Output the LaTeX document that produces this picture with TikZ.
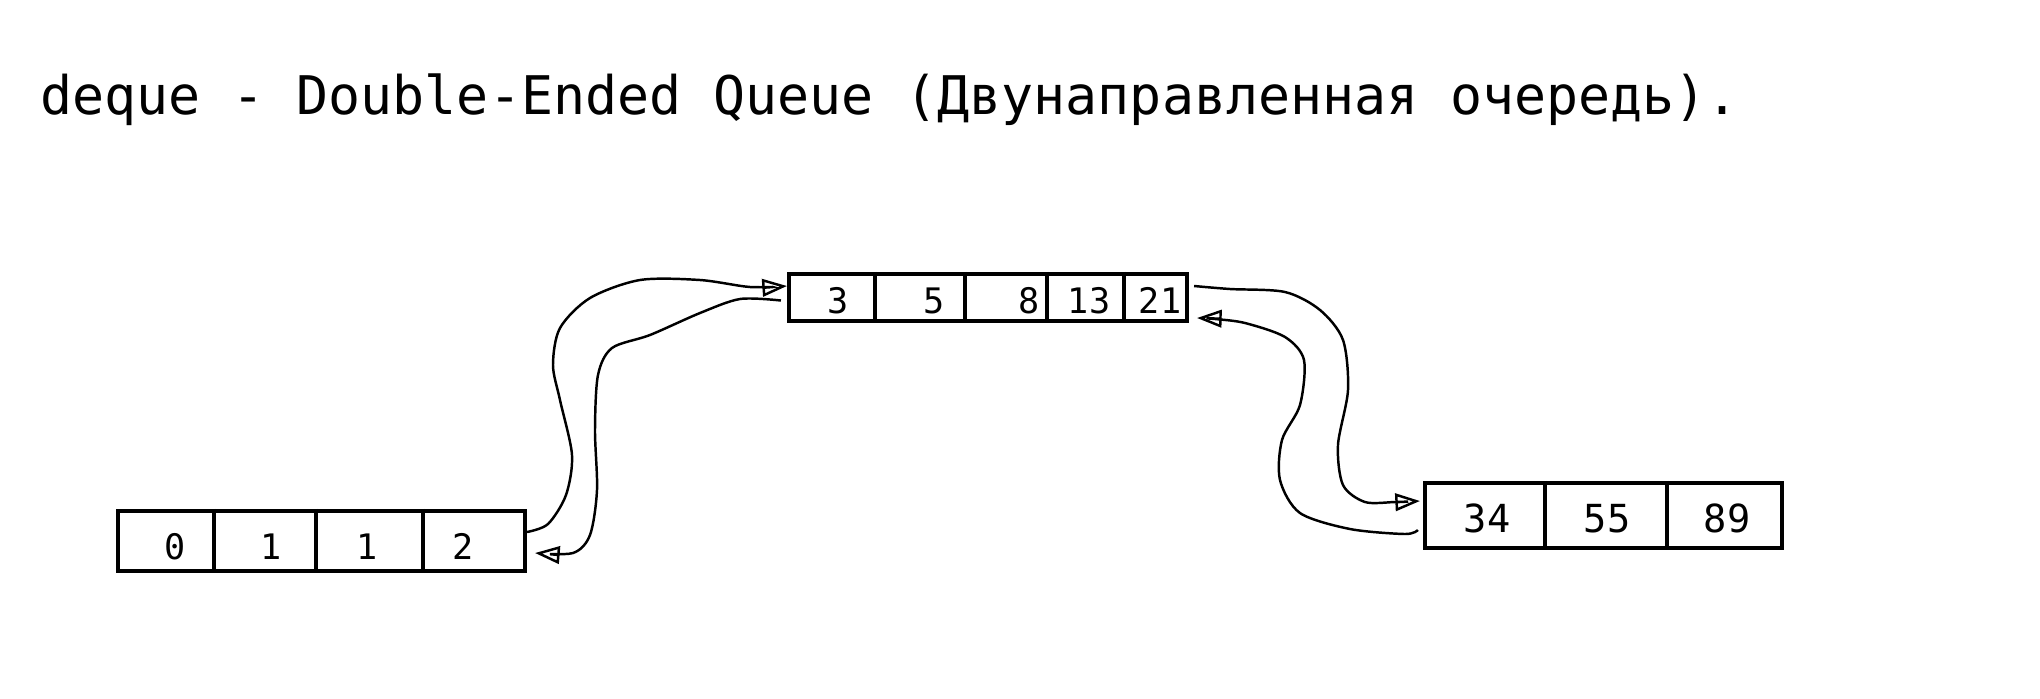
\documentclass[tikz,border=0pt]{standalone}
\usepackage{fontspec}
\setmonofont{DejaVu Sans Mono}
\usetikzlibrary{arrows.meta,calc}

\begin{document}
\begin{tikzpicture}[x=0.02cm,y=-0.02cm,
  block/.style={draw,line width=2.4pt,inner sep=0pt},
  wall/.style={line width=2.4pt},
  num/.style={anchor=base,inner sep=0pt,font=\ttfamily\fontsize{20}{24}\selectfont},
  link/.style={line width=1.4pt,-{Triangle[open,length=14pt,width=10pt]}}]
\useasboundingbox (0,0) rectangle (2040,698);

\node[anchor=base west,inner sep=0pt,font=\ttfamily\fontsize{30.3}{36}\selectfont] (title) at (40,114) {deque - Double-Ended Queue (Двунаправленная очередь).};

% three blocks of the deque
\node[block,minimum width=8.14cm,minimum height=1.2cm] (A) at (321.5,541) {};
\node[block,minimum width=7.96cm,minimum height=0.94cm] (B) at (988,297.5) {};
\node[block,minimum width=7.14cm,minimum height=1.3cm] (C) at (1603.5,515.5) {};

\foreach \x in {214,316,423} \draw[wall] (\x,0 |- A.north) -- (\x,0 |- A.south);
\foreach \x in {875,965,1047,1124} \draw[wall] (\x,0 |- B.north) -- (\x,0 |- B.south);
\foreach \x in {1545,1667} \draw[wall] (\x,0 |- C.north) -- (\x,0 |- C.south);

\node[num] (a1) at (175,559) {0};
\node[num] (a2) at (271,559) {1};
\node[num] (a3) at (367,559) {1};
\node[num] (a4) at (463,559) {2};

\node[num] (b1) at (838,313) {3};
\node[num] (b2) at (934,313) {5};
\node[num] (b3) at (1029,313) {8};
\node[num] (b4) at (1089,313) {13};
\node[num] (b5) at (1160,313) {21};

\node[num,font=\ttfamily\fontsize{22}{26}\selectfont] (c1) at (1487,532) {34};
\node[num,font=\ttfamily\fontsize{22}{26}\selectfont] (c2) at (1607,532) {55};
\node[num,font=\ttfamily\fontsize{22}{26}\selectfont] (c3) at (1727,532) {89};

% links between blocks
\draw[link] plot[smooth] coordinates {($(A.east)+(0,-9)$) (548,524) (566,495) (572,455) (560,400) (553,365) (560,328) (590,298) (640,280) (700,280) (750,287) ($(B.west)+(0,-11.5)$)};
\draw[link] plot[smooth] coordinates {($(B.west)+(-6,3)$) (740,299) (700,313) (650,335) (612,348) (598,375) (595,430) (597,490) (590,535) (573,553) ($(A.east)+(8,12)$)};

\draw[link] plot[smooth] coordinates {($(B.east)+(5,-11.5)$) (1230,289) (1285,292) (1320,310) (1343,340) (1348,390) (1338,445) (1343,485) (1365,502) (1395,502) ($(C.west)+(-3,-14.5)$)};
\draw[link] plot[smooth] coordinates {($(C.west)+(-5,14.5)$) (1405,534) (1350,529) (1300,513) (1280,480) (1282,440) (1300,405) (1304,360) (1285,337) (1245,323) (1215,319) ($(B.east)+(8,20.5)$)};
\end{tikzpicture}
\end{document}
